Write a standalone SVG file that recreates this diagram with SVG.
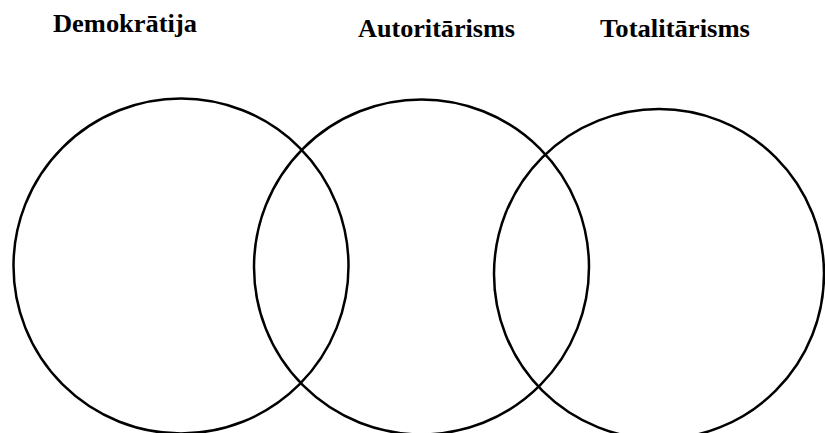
<svg xmlns="http://www.w3.org/2000/svg" width="825" height="433" viewBox="0 0 825 433">
<style>
.lbl{font-family:"Liberation Serif","Times New Roman",serif;font-weight:bold;font-size:26px;fill:#000}
.c{fill:none;stroke:#000;stroke-width:2.5}
</style>
<rect width="825" height="433" fill="#fff"/>
<g id="demokratija">
<circle class="c" cx="181" cy="266" r="167.5"/>
<text class="lbl" x="53" y="32" textLength="144" lengthAdjust="spacingAndGlyphs">Demokrātija</text>
</g>
<g id="autoritarisms">
<circle class="c" cx="421.5" cy="267" r="167.5"/>
<text class="lbl" x="358" y="37" textLength="157" lengthAdjust="spacingAndGlyphs">Autoritārisms</text>
</g>
<g id="totalitarisms">
<circle class="c" cx="659" cy="274" r="165"/>
<text class="lbl" x="600" y="37" textLength="150" lengthAdjust="spacingAndGlyphs">Totalitārisms</text>
</g>
<g id="connectors"></g>
</svg>
